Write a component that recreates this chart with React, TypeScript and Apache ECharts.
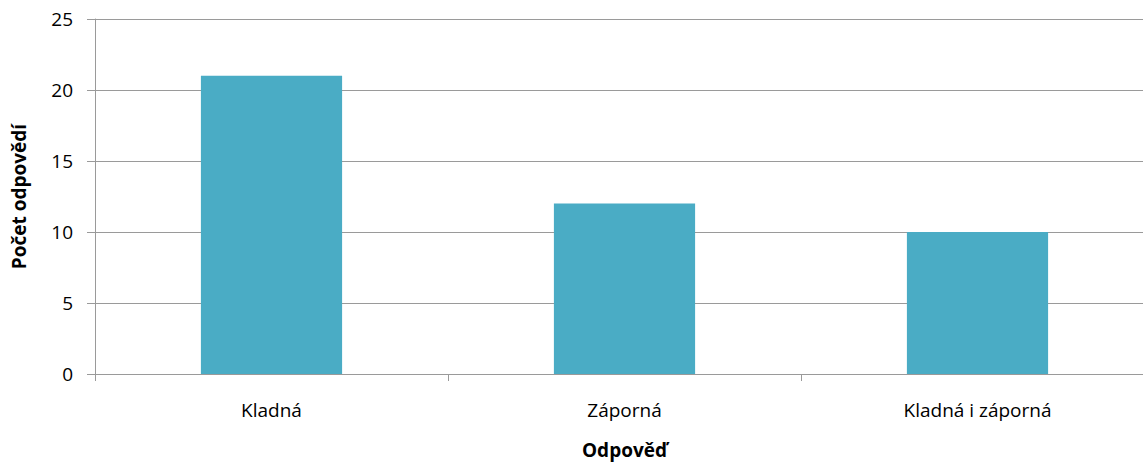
import React, { useEffect, useRef } from "react";
import * as echarts from "echarts";

const categories = ["Kladná", "Záporná", "Kladná i záporná"];
const counts = [21, 12, 10];
const yTicks = { min: 0, max: 25, interval: 5 };

const FONT = "'Open Sans', 'DejaVu Sans', sans-serif";
const AXIS_COLOR = "#9a9a9a";

export default function App() {
  const ref = useRef<HTMLDivElement>(null);

  useEffect(() => {
    if (!ref.current) return;
    const chart = echarts.init(ref.current, null, { renderer: "svg" });
    chart.setOption({
      animation: false,
      backgroundColor: "#ffffff",
      grid: {
        left: 95,
        right: 11,
        top: 19,
        bottom: 91,
        containLabel: false,
        outerBoundsMode: "none",
      },
      xAxis: {
        type: "category",
        data: categories,
        name: "Odpověď",
        nameLocation: "middle",
        nameGap: 66,
        nameTextStyle: { fontFamily: FONT, fontSize: 19, fontWeight: "bold", color: "#000" },
        axisLine: { show: true, lineStyle: { color: AXIS_COLOR, width: 1 } },
        axisTick: { show: true, length: 7, alignWithLabel: false, lineStyle: { color: AXIS_COLOR } },
        axisLabel: { margin: 26, fontFamily: FONT, fontSize: 19, color: "#000" },
      },
      yAxis: {
        type: "value",
        min: yTicks.min,
        max: yTicks.max,
        interval: yTicks.interval,
        name: "Počet odpovědí",
        nameLocation: "middle",
        nameGap: 67,
        nameRotate: 90,
        nameTextStyle: { fontFamily: FONT, fontSize: 19, fontWeight: "bold", color: "#000" },
        axisLine: { show: true, lineStyle: { color: AXIS_COLOR, width: 1 } },
        axisTick: { show: true, length: 8, lineStyle: { color: AXIS_COLOR } },
        axisLabel: { margin: 22, fontFamily: FONT, fontSize: 19, color: "#000" },
        splitLine: { show: true, lineStyle: { color: AXIS_COLOR, width: 1 } },
      },
      series: [
        {
          type: "bar",
          data: counts,
          barCategoryGap: "60%",
          itemStyle: { color: "#4aacc5" },
        },
      ],
    });
    return () => chart.dispose();
  }, []);

  // The plot runs slightly past the right edge of the window, so the
  // chart box is wider than the viewport and pinned to its top-left corner.
  return (
    <div
      ref={ref}
      style={{ position: "fixed", left: 0, top: 0, width: 1165, height: 465 }}
    />
  );
}
